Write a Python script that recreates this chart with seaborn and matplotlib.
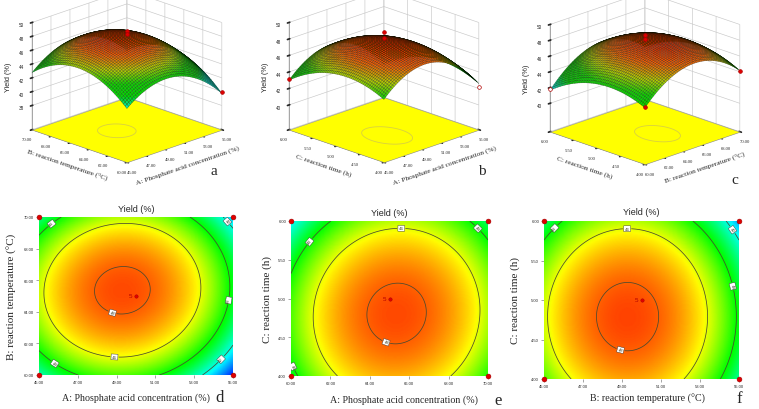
import numpy as np
import matplotlib
matplotlib.use("Agg")
import matplotlib.pyplot as plt
import seaborn as sns
from matplotlib.colors import Normalize

# ---------------- data ----------------
# factor ranges (actual units)
range_A = [45.0, 55.0]      # phosphate acid concentration (%)
range_B = [60.0, 70.0]      # reaction temperature (°C)
range_C = [4.0, 6.0]        # reaction time (h)

ticks_A = [45, 47, 49, 51, 53, 55]
ticks_B = [60, 62, 64, 66, 68, 70]
ticks_C = [4.0, 4.5, 5.0, 5.5, 6.0]

# coded quadratic response models:
# Yield = b0 + bx*x + by*y + bxy*x*y - qx*x^2 - qy*y^2
coef_AB = [48.2, -1.0, 0.5, 0.25, 3.5, 3.2]    # panels a, d
coef_AC = [48.2, -1.0, -0.8, 0.0, 3.5, 1.9]    # panels b, f
coef_BC = [48.2, 0.5, -0.75, 0.2, 3.2, 1.9]    # panels c, e

zlim_a = [34.5, 50]
zlim_b = [37.0, 50]
zlim_c = [36.4, 50]
zticks_a = [38, 40, 42, 44, 46, 48, 50]
zticks_bc = [40, 42, 44, 46, 48, 50]

# design points shown on the 3D plots
pts_a_x = [50, 50, 55]; pts_a_y = [65, 65, 60]; pts_a_z = [48.8, 48.3, 39.9]; pts_a_open = [False, False, False]
pts_b_x = [50, 50, 45, 55]; pts_b_y = [5, 5, 6, 4]; pts_b_z = [48.8, 48.1, 43.1, 42.2]; pts_b_open = [False, False, False, True]
pts_c_x = [65, 65, 60, 60, 70]; pts_c_y = [5, 5, 4, 6, 4]; pts_c_z = [48.7, 48.1, 43.7, 41.8, 44.1]; pts_c_open = [False, False, False, True, False]

levels_d = [42, 44, 46, 48]
levels_e = [44, 46, 48]
levels_f = [42, 44, 46, 48]

labels_d = [(45.5, 69.8), (54.7, 69.7), (48.85, 64.2), (48.9, 61.35), (45.9, 60.9), (54.3, 61.1), (54.67, 64.75)]
labels_e = [(60.8, 5.76), (65.6, 5.94), (69.5, 5.91), (64.9, 4.49), (60.24, 4.14)]
labels_f = [(45.38, 5.95), (49.26, 5.96), (54.67, 5.89), (54.62, 5.17), (49.0, 4.44)]

center_replicates = 5

# ---------------- style ----------------
sns.set_theme(style="white")
plt.rcParams["font.family"] = ["Liberation Serif", "DejaVu Serif"]
plt.rcParams["grid.color"] = "#c8c8c8"
plt.rcParams["grid.linewidth"] = 0.45
plt.rcParams["axes.linewidth"] = 0.5

cmap = sns.blend_palette(["#0000ff", "#00ffff", "#00ff00", "#ffff00", "#ff4000"], as_cmap=True)
norm = Normalize(vmin=39.5, vmax=48.4)
cmap3d = sns.blend_palette(["#00e8e0", "#00e000", "#10d800", "#b8d000", "#ff6000", "#e02000"],
                           as_cmap=True)
norm3d = Normalize(vmin=42.0, vmax=48.4)

SANS = ["Liberation Sans", "DejaVu Sans"]
W, H = 759, 410


def model(coef, u, v):
    b0, bx, by, bxy, qx, qy = coef
    return b0 + bx * u + by * v + bxy * u * v - qx * u ** 2 - qy * v ** 2


def to_actual(c, r):
    return r[0] + (c + 1) / 2 * (r[1] - r[0])


fig = plt.figure(figsize=(7.59, 4.10), dpi=100)


def panel3d(center, coef, xr, yr, xt, yt, zl, zt, xlabel, ylabel,
            px, py, pz, popen, letter, letter_xy):
    aw, ah = 270, 215
    rect = [(center[0] - aw / 2) / W, 1 - (center[1] + ah / 2) / H, aw / W, ah / H]
    ax = fig.add_axes(rect, projection="3d", computed_zorder=False)
    ax.set_proj_type("ortho")
    ax.view_init(elev=20, azim=-135)
    ax.set_box_aspect((1, 1, 0.85), zoom=1.0)
    n = 56
    u = np.linspace(-1, 1, n)
    U, V = np.meshgrid(u, u)
    Z = model(coef, U, V)
    X = to_actual(U, xr)
    Y = to_actual(V, yr)
    # floor
    fx, fy = np.meshgrid(xr, yr)
    ax.plot_surface(fx, fy, np.full_like(fx, zl[0]), color="#ffff00", shade=False,
                    edgecolor="#909090", linewidth=0.4, zorder=1)
    ax.contour(X, Y, Z, levels=[48], zdir="z", offset=zl[0], colors="#d8d040",
               linewidths=0.6, zorder=2)
    fc = cmap3d(norm3d(Z))
    ax.plot_surface(X, Y, Z, facecolors=fc, rstride=1, cstride=1, shade=False,
                    edgecolor=(0.0, 0.05, 0.0, 0.5), linewidth=0.3, zorder=3)
    for x, y, z, o in zip(px, py, pz, popen):
        ax.scatter([x], [y], [z], s=7, c="white" if o else "#e00000",
                   edgecolors="#b00000", linewidths=0.5, depthshade=False, zorder=5)
    ax.set_xlim(xr); ax.set_ylim(yr); ax.set_zlim(zl)
    ax.set_xticks(xt); ax.set_yticks(yt); ax.set_zticks(zt)
    ax.set_xticklabels(["%.2f" % v for v in xt], fontsize=3.3)
    ax.set_yticklabels(["%.2f" % v for v in yt], fontsize=3.3)
    ax.set_zticklabels(["%d" % v for v in zt], fontsize=3.3, family=SANS)
    ax.tick_params(axis="both", pad=-3.5, length=2)
    ax.zaxis.set_ticks_position("upper")
    ax.zaxis.set_label_position("upper")
    ax.set_xlabel(xlabel, fontsize=5.3, labelpad=-10)
    ax.set_ylabel(ylabel, fontsize=5.3, labelpad=-10)
    ax.set_zlabel("Yield (%)", fontsize=5.3, labelpad=-11, family=SANS)
    for axis in (ax.xaxis, ax.yaxis, ax.zaxis):
        axis.set_pane_color((1, 1, 1, 1))
        axis.line.set_linewidth(0.4)
        axis.line.set_color("#707070")
    fig.text(letter_xy[0] / W, 1 - letter_xy[1] / H, letter, fontsize=11,
             ha="center", va="center")
    return ax


panel3d((124, 80), coef_AB, range_A, range_B, ticks_A, ticks_B, zlim_a, zticks_a,
        "A: Phosphate acid concentration (%)", "B: reaction temperature (°C)",
        pts_a_x, pts_a_y, pts_a_z, pts_a_open, "a", (214, 172))
panel3d((381, 80), coef_AC, range_A, range_C, ticks_A, ticks_C, zlim_b, zticks_bc,
        "A: Phosphate acid concentration (%)", "C: reaction time (h)",
        pts_b_x, pts_b_y, pts_b_z, pts_b_open, "b", (482, 172))
panel3d((642, 82), coef_BC, range_B, range_C, ticks_B, ticks_C, zlim_c, zticks_bc,
        "B: reaction temperature (°C)", "C: reaction time (h)",
        pts_c_x, pts_c_y, pts_c_z, pts_c_open, "c", (735, 181))


def panel2d(rect, coef, xr, yr, xt, yt, levels, lab_pos, xlabel, ylabel, letter,
            letter_xy, xlab_xy, ylab_x, title_y):
    ax = fig.add_axes(rect)
    n = 240
    u = np.linspace(-1, 1, n)
    U, V = np.meshgrid(u, u)
    Z = model(coef, U, V)
    X = to_actual(U, xr)
    Y = to_actual(V, yr)
    ax.pcolormesh(X, Y, Z, cmap=cmap, norm=norm, shading="gouraud", rasterized=True)
    cs = ax.contour(X, Y, Z, levels=levels, colors="#4a4a30", linewidths=0.55)
    txts = ax.clabel(cs, fmt="%d", fontsize=3.2, manual=lab_pos, inline=True, inline_spacing=2)
    for t in txts:
        t.set_bbox(dict(boxstyle="square,pad=0.2", fc="white", ec="#303030", lw=0.3))
        t.set_family(SANS)
    cx = [xr[0], xr[1], xr[0], xr[1]]
    cy = [yr[0], yr[0], yr[1], yr[1]]
    sns.scatterplot(x=cx, y=cy, ax=ax, color="#e00000", s=12, edgecolor="#a00000",
                    linewidth=0.4, clip_on=False, zorder=6, legend=False)
    mx = (xr[0] + xr[1]) / 2
    my = (yr[0] + yr[1]) / 2
    sns.scatterplot(x=[mx], y=[my], ax=ax, color="#e00000", s=6, edgecolor="#a00000",
                    linewidth=0.3, zorder=6, legend=False)
    ax.annotate(str(center_replicates), (mx, my), xytext=(-2.5, 0), textcoords="offset points",
                ha="right", va="center", fontsize=4.5, color="#b00000", family=SANS)
    ax.set_xlim(xr); ax.set_ylim(yr)
    ax.set_xticks(xt); ax.set_yticks(yt)
    ax.set_xticklabels(["%.2f" % v for v in xt], fontsize=3, family=SANS)
    ax.set_yticklabels(["%.2f" % v for v in yt], fontsize=3, family=SANS)
    ax.tick_params(axis="both", length=2, width=0.4, pad=1.5, color="#606060", direction="out",
                   bottom=True, left=True)
    for s in ax.spines.values():
        s.set_visible(False)
    ax.set_xlabel(""); ax.set_ylabel("")
    fig.text(xlab_xy[0] / W, 1 - xlab_xy[1] / H, xlabel, fontsize=7.2, ha="center", va="center")
    fig.text(ylab_x / W, rect[1] + rect[3] / 2, ylabel, fontsize=8,
             ha="center", va="center", rotation=90)
    fig.text((rect[0] + rect[2] / 2), 1 - title_y / H, "Yield (%)", fontsize=6.5,
             ha="center", va="center", family=SANS)
    fig.text(letter_xy[0] / W, 1 - letter_xy[1] / H, letter, fontsize=12,
             ha="center", va="center")
    return ax


panel2d([39 / W, 1 - 376 / H, 194 / W, 158 / H], coef_AB, range_A, range_B, ticks_A, ticks_B,
        levels_d, labels_d, "A: Phosphate acid concentration (%)", "B: reaction temperature (°C)",
        "d", (220, 398), (136, 398), 12, 210)
panel2d([291 / W, 1 - 377 / H, 197 / W, 155 / H], coef_BC, range_B, range_C, ticks_B, ticks_C,
        levels_e, labels_e, "A: Phosphate acid concentration (%)", "C: reaction time (h)",
        "e", (498, 401), (404, 400), 267, 214)
panel2d([544 / W, 1 - 380 / H, 195 / W, 158 / H], coef_AC, range_A, range_C, ticks_A, ticks_C,
        levels_f, labels_f, "B: reaction temperature (°C)", "C: reaction time (h)",
        "f", (739, 399), (648, 399), 515, 213)

fig.savefig("out.png", dpi=100)
